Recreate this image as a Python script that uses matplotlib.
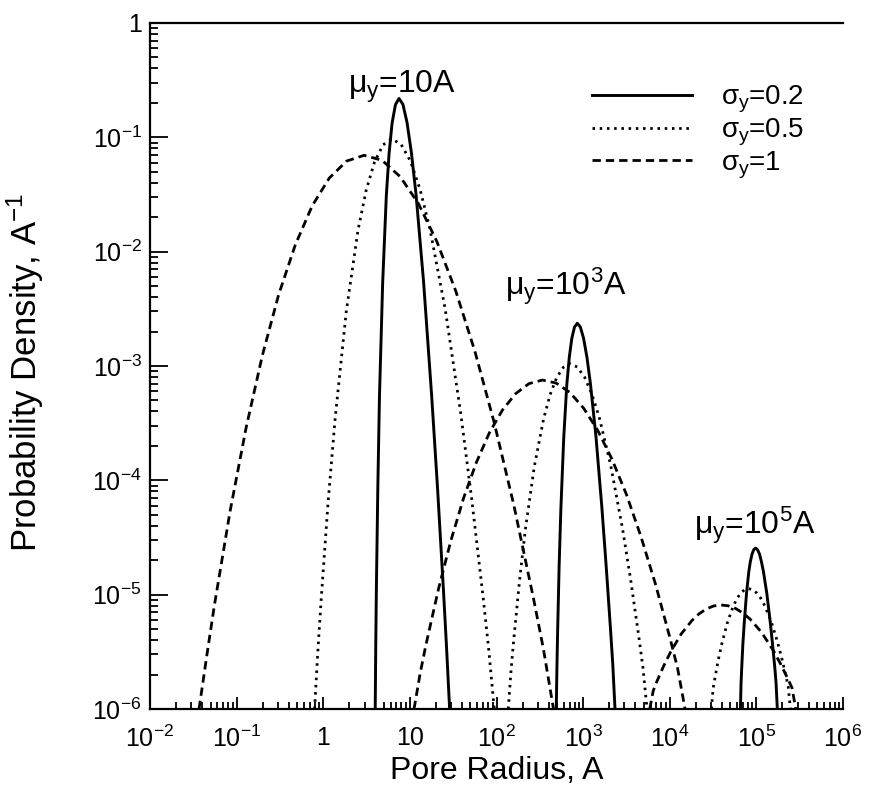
import numpy as np
import matplotlib
matplotlib.use("Agg")
import matplotlib.pyplot as plt
from matplotlib.ticker import LogLocator, FixedLocator, NullFormatter

plt.rcParams['font.family'] = ['Liberation Sans', 'DejaVu Sans']
plt.rcParams['mathtext.fontset'] = 'custom'
plt.rcParams['mathtext.rm'] = 'Liberation Sans'
plt.rcParams['mathtext.it'] = 'Liberation Sans'
plt.rcParams['mathtext.bf'] = 'Liberation Sans:bold'

# ---- values, as log10 exponents (log10 radius, log10 density) ----
# mu_y = 10 A
s1_lx = [0.600, 0.606, 0.613, 0.630, 0.649, 0.686, 0.728, 0.760, 0.795, 0.834, 0.875,
         0.920, 0.967, 1.018, 1.072, 1.158, 1.251, 1.318, 1.387, 1.422, 1.459]
s1_ly = [-6.0, -5.457, -4.965, -4.062, -3.266, -2.270, -1.512, -1.140, -0.873, -0.713, -0.660,
         -0.712, -0.870, -1.136, -1.506, -2.262, -3.256, -4.051, -4.952, -5.443, -6.0]
d1_lx = [-0.100, -0.063, -0.024, 0.055, 0.138, 0.266, 0.401, 0.495, 0.592, 0.691, 0.793,
         0.899, 1.007, 1.117, 1.231, 1.408, 1.590, 1.715, 1.844, 1.909, 1.974]
d1_ly = [-6.0, -5.503, -5.043, -4.199, -3.453, -2.522, -1.813, -1.464, -1.215, -1.065, -1.013,
         -1.062, -1.208, -1.454, -1.799, -2.503, -3.429, -4.171, -5.012, -5.470, -6.0]
h1_lx = [-1.434, -1.345, -1.256, -1.075, -0.891, -0.704, -0.516, -0.323, -0.129, 0.069, 0.269,
         0.472, 0.679, 0.887, 1.099, 1.313, 1.530, 1.750, 1.973, 2.199, 2.426, 2.541, 2.658]
h1_ly = [-6.0, -5.537, -5.090, -4.268, -3.542, -2.911, -2.379, -1.941, -1.601, -1.357, -1.208,
         -1.157, -1.201, -1.343, -1.580, -1.914, -2.345, -2.870, -3.494, -4.213, -5.029, -5.472, -6.0]
# mu_y = 10^3 A
s3_lx = [2.690, 2.698, 2.706, 2.723, 2.743, 2.776, 2.812, 2.840, 2.869, 2.900, 2.933,
         2.968, 3.005, 3.044, 3.084, 3.149, 3.217, 3.265, 3.316, 3.342, 3.368]
s3_ly = [-6.0, -5.617, -5.310, -4.748, -4.251, -3.630, -3.158, -2.926, -2.760, -2.660, -2.626,
         -2.659, -2.757, -2.923, -3.153, -3.624, -4.243, -4.739, -5.300, -5.606, -6.0]
d3_lx = [2.136, 2.168, 2.200, 2.265, 2.332, 2.436, 2.545, 2.619, 2.695, 2.772, 2.851,
         2.932, 3.015, 3.099, 3.186, 3.318, 3.454, 3.547, 3.642, 3.690, 3.738]
d3_ly = [-6.0, -5.661, -5.386, -4.883, -4.437, -3.881, -3.458, -3.250, -3.101, -3.011, -2.980,
         -3.009, -3.095, -3.242, -3.448, -3.867, -4.419, -4.861, -5.362, -5.635, -6.0]
h3_lx = [1.048, 1.118, 1.188, 1.331, 1.475, 1.621, 1.769, 1.917, 2.069, 2.221, 2.375,
         2.530, 2.687, 2.847, 3.007, 3.169, 3.333, 3.499, 3.665, 3.835, 4.004, 4.090, 4.177]
h3_ly = [-6.0, -5.691, -5.430, -4.948, -4.523, -4.153, -3.841, -3.585, -3.385, -3.242, -3.154,
         -3.123, -3.149, -3.231, -3.370, -3.564, -3.815, -4.122, -4.486, -4.907, -5.383, -5.642, -6.0]
# mu_y = 10^5 A
s5_lx = [4.816, 4.823, 4.830, 4.844, 4.861, 4.886, 4.912, 4.930, 4.950, 4.970, 4.991,
         5.012, 5.036, 5.058, 5.082, 5.120, 5.159, 5.186, 5.214, 5.227, 5.242]
s5_ly = [-6.0, -5.776, -5.655, -5.432, -5.236, -4.990, -4.803, -4.712, -4.645, -4.606, -4.593,
         -4.605, -4.644, -4.710, -4.800, -4.987, -5.232, -5.427, -5.649, -5.770, -6.0]
d5_lx = [4.481, 4.501, 4.522, 4.562, 4.604, 4.667, 4.732, 4.775, 4.819, 4.864, 4.909,
         4.956, 5.001, 5.049, 5.096, 5.169, 5.242, 5.292, 5.342, 5.367, 5.393]
d5_ly = [-6.0, -5.817, -5.728, -5.565, -5.420, -5.240, -5.103, -5.035, -4.986, -4.957, -4.947,
         -4.956, -4.983, -5.030, -5.096, -5.231, -5.409, -5.552, -5.714, -5.802, -6.0]
h5_lx = [3.769, 3.809, 3.848, 3.929, 4.010, 4.131, 4.255, 4.337, 4.420, 4.505, 4.588,
         4.673, 4.758, 4.843, 4.929, 5.059, 5.190, 5.277, 5.366, 5.411, 5.455]
h5_ly = [-6.0, -5.841, -5.765, -5.625, -5.501, -5.345, -5.227, -5.168, -5.126, -5.099, -5.090,
         -5.097, -5.120, -5.160, -5.215, -5.329, -5.481, -5.602, -5.740, -5.814, -6.0]

sigma_labels = [r'$\sigma_\mathrm{y}$=0.2', r'$\sigma_\mathrm{y}$=0.5', r'$\sigma_\mathrm{y}$=1']
mu_labels = [r'$\mu_\mathrm{y}$=10A', r'$\mu_\mathrm{y}$=10$^3$A', r'$\mu_\mathrm{y}$=10$^5$A']
x_tick_vals = [1e-2, 1e-1, 1, 10, 1e2, 1e3, 1e4, 1e5, 1e6]
x_tick_labels = ['$10^{-2}$', '$10^{-1}$', '1', '10', '$10^{2}$', '$10^{3}$', '$10^{4}$', '$10^{5}$', '$10^{6}$']
y_tick_vals = [1e-6, 1e-5, 1e-4, 1e-3, 1e-2, 1e-1, 1]
y_tick_labels = ['$10^{-6}$', '$10^{-5}$', '$10^{-4}$', '$10^{-3}$', '$10^{-2}$', '$10^{-1}$', '1']

W, H = 869, 788
L, R, T, B = 150, 843, 23, 709
fig = plt.figure(figsize=(W / 100, H / 100), dpi=100)
ax = fig.add_axes([L / W, 1 - B / H, (R - L) / W, (B - T) / H])
ax.set_xscale('log')
ax.set_yscale('log')
ax.set_xlim(1e-2, 1e6)
ax.set_ylim(1e-6, 1)

solid = dict(color='black', lw=2.1, linestyle='-')
dotted = dict(color='black', lw=2.0, linestyle=(0, (0.9, 1.7)))
dashed = dict(color='black', lw=2.0, linestyle=(0, (3.0, 1.8)))

def P(lx, ly, style, label=None):
    ax.plot(10 ** np.asarray(lx), 10 ** np.asarray(ly), label=label, clip_on=True, **style)

P(s1_lx, s1_ly, solid, sigma_labels[0])
P(d1_lx, d1_ly, dotted, sigma_labels[1])
P(h1_lx, h1_ly, dashed, sigma_labels[2])
P(s3_lx, s3_ly, solid)
P(d3_lx, d3_ly, dotted)
P(h3_lx, h3_ly, dashed)
P(s5_lx, s5_ly, solid)
P(d5_lx, d5_ly, dotted)
P(h5_lx, h5_ly, dashed)

# ticks
ax.xaxis.set_major_locator(FixedLocator(x_tick_vals))
ax.set_xticklabels(x_tick_labels)
ax.xaxis.set_minor_locator(LogLocator(base=10, subs=np.arange(2, 10), numticks=20))
ax.xaxis.set_minor_formatter(NullFormatter())
ax.yaxis.set_major_locator(FixedLocator(y_tick_vals))
ax.set_yticklabels(y_tick_labels)
ax.yaxis.set_minor_locator(LogLocator(base=10, subs=np.arange(2, 10), numticks=20))
ax.yaxis.set_minor_formatter(NullFormatter())
ax.tick_params(axis='both', which='both', direction='in', labelsize=18, width=1.3,
               top=False, right=False)
ax.tick_params(axis='x', which='major', length=9, pad=12)
ax.tick_params(axis='x', which='minor', length=5)
ax.tick_params(axis='y', which='major', length=13, pad=6)
ax.tick_params(axis='y', which='minor', length=6)
for s in ['left', 'bottom', 'top']:
    ax.spines[s].set_linewidth(1.6)
ax.spines['right'].set_visible(False)

ax.set_xlabel('Pore Radius, A', fontsize=23, labelpad=3)
ax.set_ylabel('Probability Density, A$^{-1}$', fontsize=25)
ax.yaxis.set_label_coords(-0.150, 0.49)

leg = ax.legend(loc='upper right', bbox_to_anchor=(0.9447, 0.9111), frameon=False, fontsize=20,
                handlelength=3.6, handletextpad=1.05, labelspacing=0.05, borderaxespad=0,
                borderpad=0)

ax.text(10 ** 0.910, 10 ** -0.611, mu_labels[0], fontsize=23, ha='center', va='baseline')
ax.text(10 ** 2.804, 10 ** -2.378, mu_labels[1], fontsize=23, ha='center', va='baseline')
ax.text(10 ** 4.986, 10 ** -4.469, mu_labels[2], fontsize=23, ha='center', va='baseline')

fig.savefig('out.png', dpi=100)
